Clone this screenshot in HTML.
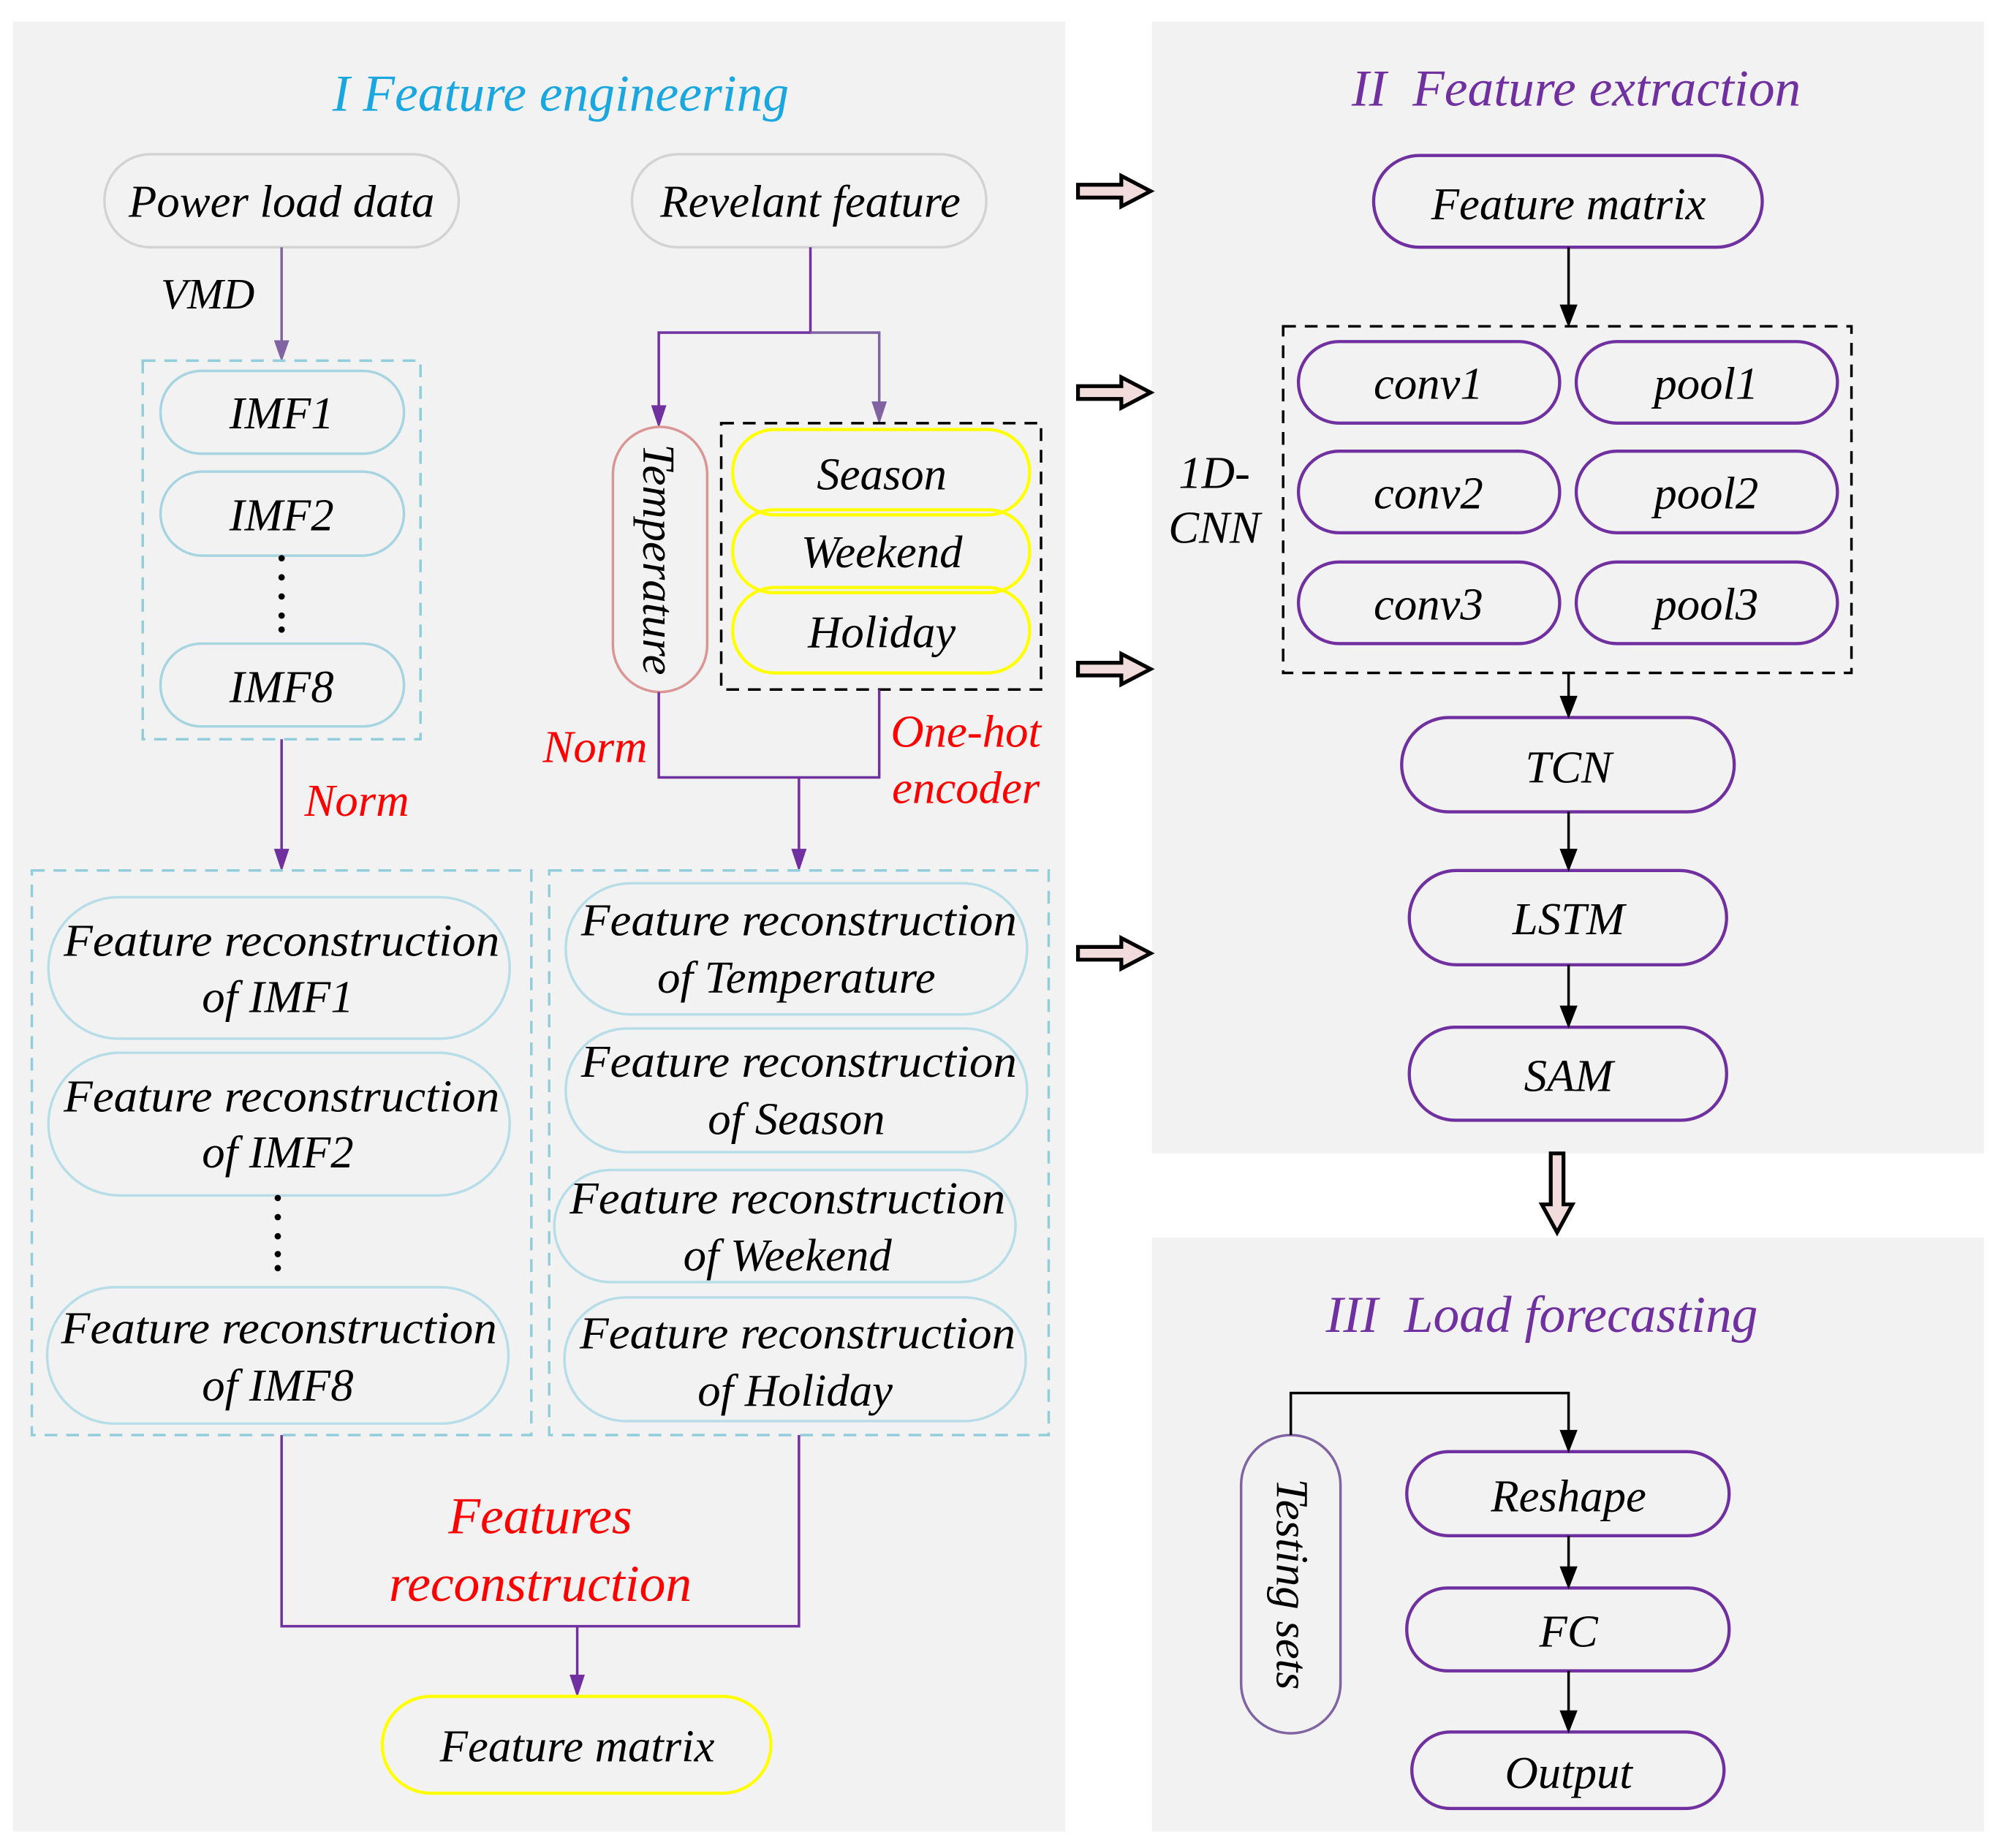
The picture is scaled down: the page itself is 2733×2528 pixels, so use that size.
<!DOCTYPE html>
<html><head><meta charset="utf-8"><style>html,body{margin:0;padding:0;background:#fff}svg{display:block}</style></head>
<body>
<svg width="2733" height="2528" viewBox="0 0 1568 1450" preserveAspectRatio="none" xmlns="http://www.w3.org/2000/svg" font-family="Liberation Serif, serif" font-style="italic">
<rect x="0" y="0" width="1568" height="1450" fill="#fff"/>
<rect x="10" y="17" width="826" height="1420" fill="#f2f2f2"/>
<rect x="904" y="17" width="653" height="888" fill="#f2f2f2"/>
<rect x="904" y="971" width="653" height="466" fill="#f2f2f2"/>

<g text-anchor="middle" font-size="36" fill="#000">
<text x="440" y="87" fill="#1aa7e0" font-size="41">I Feature engineering</text>
<text x="1237" y="83" fill="#7030a0" font-size="41" xml:space="preserve">II  Feature extraction</text>
<text x="1210" y="1045" fill="#7030a0" font-size="41" xml:space="preserve">III  Load forecasting</text>

<!-- Panel I top -->
<rect x="82" y="121" width="278" height="73" rx="36" fill="none" stroke="#d3d3d3" stroke-width="2"/>
<text x="221" y="170">Power load data</text>
<rect x="496" y="121" width="278" height="73" rx="36" fill="none" stroke="#d3d3d3" stroke-width="2"/>
<text x="636" y="170">Revelant feature</text>
<text x="163" y="242" font-size="34">VMD</text>
<line x1="221" y1="194" x2="221" y2="270" stroke="#8064a2" stroke-width="2"/>
<polygon points="215,267 227,267 221,284" fill="#8064a2"/>
<rect x="112" y="283" width="218" height="297" fill="none" stroke="#92cddc" stroke-width="2" stroke-dasharray="10,7"/>
<g fill="none" stroke="#a6d4e0" stroke-width="2">
<rect x="126" y="291" width="191" height="65" rx="32"/>
<rect x="126" y="370" width="191" height="66" rx="33"/>
<rect x="126" y="505" width="191" height="65" rx="32"/>
</g>
<text x="221" y="336">IMF1</text>
<text x="221" y="416">IMF2</text>
<text x="221" y="551">IMF8</text>
<g fill="#000"><circle cx="221" cy="438" r="2.5"/><circle cx="221" cy="453" r="2.5"/><circle cx="221" cy="468" r="2.5"/><circle cx="221" cy="483" r="2.5"/><circle cx="221" cy="494" r="2.5"/></g>
<line x1="221" y1="580" x2="221" y2="670" stroke="#7030a0" stroke-width="2"/>
<polygon points="215,666 227,666 221,684" fill="#7030a0"/>
<text x="280" y="640" fill="#ff0000">Norm</text>

<!-- relevant branch -->
<path d="M636,194 V261 H517 V322" fill="none" stroke="#7030a0" stroke-width="2"/>
<polygon points="511,318 523,318 517,336" fill="#7030a0"/>
<path d="M636,261 H690 V320" fill="none" stroke="#8064a2" stroke-width="2"/>
<polygon points="684,315 696,315 690,333" fill="#8064a2"/>
<rect x="481" y="335" width="74" height="208" rx="37" fill="none" stroke="#d99694" stroke-width="2"/>
<text transform="translate(505,439) rotate(90)">Temperature</text>
<rect x="566" y="332" width="251" height="209" fill="none" stroke="#000" stroke-width="2" stroke-dasharray="10,7"/>
<g fill="none" stroke="#ffff00" stroke-width="2.5">
<rect x="575" y="337" width="233" height="67" rx="33"/>
<rect x="575" y="400" width="233" height="65" rx="32"/>
<rect x="575" y="461" width="233" height="67" rx="33"/>
</g>
<text x="692" y="384">Season</text>
<text x="692" y="445">Weekend</text>
<text x="692" y="508">Holiday</text>
<path d="M517,543 V610 H690 V541" fill="none" stroke="#7030a0" stroke-width="2"/>
<line x1="627" y1="610" x2="627" y2="670" stroke="#7030a0" stroke-width="2"/>
<polygon points="621,666 633,666 627,684" fill="#7030a0"/>
<text x="467" y="598" fill="#ff0000">Norm</text>
<text x="758" y="586" fill="#ff0000">One-hot</text>
<text x="758" y="630" fill="#ff0000">encoder</text>

<!-- reconstruction boxes -->
<rect x="25" y="683" width="392" height="443" fill="none" stroke="#92cddc" stroke-width="2" stroke-dasharray="10,7"/>
<rect x="431" y="683" width="392" height="443" fill="none" stroke="#92cddc" stroke-width="2" stroke-dasharray="10,7"/>
<g fill="none" stroke="#b7dde8" stroke-width="2">
<rect x="38" y="704" width="362" height="111" rx="55"/>
<rect x="38" y="826" width="362" height="112" rx="56"/>
<rect x="37" y="1010" width="362" height="107" rx="53"/>
<rect x="444" y="693" width="362" height="103" rx="51"/>
<rect x="444" y="807" width="362" height="97" rx="48"/>
<rect x="435" y="918" width="362" height="88" rx="44"/>
<rect x="443" y="1018" width="362" height="97" rx="48"/>
</g>
<g font-size="36">
<text x="221" y="750" textLength="342" lengthAdjust="spacingAndGlyphs">Feature reconstruction</text>
<text x="218" y="794">of IMF1</text>
<text x="221" y="872" textLength="342" lengthAdjust="spacingAndGlyphs">Feature reconstruction</text>
<text x="218" y="916">of IMF2</text>
<text x="219" y="1054" textLength="342" lengthAdjust="spacingAndGlyphs">Feature reconstruction</text>
<text x="218" y="1099">of IMF8</text>
<text x="627" y="734" textLength="342" lengthAdjust="spacingAndGlyphs">Feature reconstruction</text>
<text x="625" y="779">of Temperature</text>
<text x="627" y="845" textLength="342" lengthAdjust="spacingAndGlyphs">Feature reconstruction</text>
<text x="625" y="890">of Season</text>
<text x="618" y="952" textLength="342" lengthAdjust="spacingAndGlyphs">Feature reconstruction</text>
<text x="618" y="997">of Weekend</text>
<text x="626" y="1058" textLength="342" lengthAdjust="spacingAndGlyphs">Feature reconstruction</text>
<text x="624" y="1103">of Holiday</text>
</g>
<g fill="#000"><circle cx="218" cy="940" r="2.5"/><circle cx="218" cy="955" r="2.5"/><circle cx="218" cy="970" r="2.5"/><circle cx="218" cy="984" r="2.5"/><circle cx="218" cy="995" r="2.5"/></g>
<path d="M221,1126 V1276 H627 V1126" fill="none" stroke="#7030a0" stroke-width="2"/>
<line x1="453" y1="1276" x2="453" y2="1318" stroke="#7030a0" stroke-width="2"/>
<polygon points="447,1314 459,1314 453,1332" fill="#7030a0"/>
<text x="424" y="1203" fill="#ff0000" font-size="41">Features</text>
<text x="424" y="1256" fill="#ff0000" font-size="41">reconstruction</text>
<rect x="300" y="1331" width="305" height="76" rx="38" fill="none" stroke="#ffff00" stroke-width="2.5"/>
<text x="453" y="1382">Feature matrix</text>

<!-- block arrows -->
<g fill="#f2dcdb" stroke="#000" stroke-width="3" stroke-linejoin="miter">
<path d="M846,145 H880 V138 L903,150 L880,162 V155 H846 Z"/>
<path d="M846,303 H880 V296 L903,308 L880,320 V313 H846 Z"/>
<path d="M846,520 H880 V513 L903,525 L880,537 V530 H846 Z"/>
<path d="M846,743 H880 V736 L903,748 L880,760 V753 H846 Z"/>
<path d="M1217,905 V945 H1210 L1222,967 L1234,945 H1227 V905 Z"/>
</g>

<!-- Panel II -->
<g fill="none" stroke="#7030a0" stroke-width="2.5">
<rect x="1078" y="122" width="305" height="72" rx="36"/>
<rect x="1019" y="268" width="205" height="64" rx="32"/>
<rect x="1237" y="268" width="205" height="64" rx="32"/>
<rect x="1019" y="354" width="205" height="64" rx="32"/>
<rect x="1237" y="354" width="205" height="64" rx="32"/>
<rect x="1019" y="441" width="205" height="64" rx="32"/>
<rect x="1237" y="441" width="205" height="64" rx="32"/>
<rect x="1100" y="563" width="261" height="74" rx="37"/>
<rect x="1106" y="683" width="249" height="74" rx="37"/>
<rect x="1106" y="806" width="249" height="73" rx="36"/>
<rect x="1104" y="1139" width="253" height="66" rx="33"/>
<rect x="1104" y="1246" width="253" height="65" rx="32"/>
<rect x="1108" y="1359" width="245" height="60" rx="30"/>
</g>
<rect x="974" y="1126" width="78" height="234" rx="39" fill="none" stroke="#8064a2" stroke-width="2"/>
<rect x="1007" y="256" width="446" height="272" fill="none" stroke="#000" stroke-width="2" stroke-dasharray="10,7"/>
<text x="1231" y="172">Feature matrix</text>
<text x="1121" y="313">conv1</text>
<text x="1339" y="313">pool1</text>
<text x="1121" y="399">conv2</text>
<text x="1339" y="399">pool2</text>
<text x="1121" y="486">conv3</text>
<text x="1339" y="486">pool3</text>
<text x="953" y="383">1D-</text>
<text x="953" y="426">CNN</text>
<text x="1231" y="614">TCN</text>
<text x="1231" y="733">LSTM</text>
<text x="1231" y="856">SAM</text>
<text x="1231" y="1186">Reshape</text>
<text x="1231" y="1292">FC</text>
<text x="1231" y="1403">Output</text>
<text transform="translate(1002,1243) rotate(90)">Testing sets</text>
<g stroke="#000" stroke-width="2" fill="none">
<line x1="1231" y1="194" x2="1231" y2="242"/>
<line x1="1231" y1="528" x2="1231" y2="550"/>
<line x1="1231" y1="637" x2="1231" y2="670"/>
<line x1="1231" y1="757" x2="1231" y2="793"/>
<line x1="1231" y1="1205" x2="1231" y2="1232"/>
<line x1="1231" y1="1311" x2="1231" y2="1346"/>
<path d="M1013,1126 V1093 H1231 V1126"/>
</g>
<g fill="#000">
<polygon points="1224,239 1238,239 1231,257"/>
<polygon points="1224,546 1238,546 1231,564"/>
<polygon points="1224,666 1238,666 1231,684"/>
<polygon points="1224,789 1238,789 1231,807"/>
<polygon points="1224,1122 1238,1122 1231,1140"/>
<polygon points="1224,1229 1238,1229 1231,1247"/>
<polygon points="1224,1342 1238,1342 1231,1360"/>
</g>
</g>
</svg>
</body></html>
